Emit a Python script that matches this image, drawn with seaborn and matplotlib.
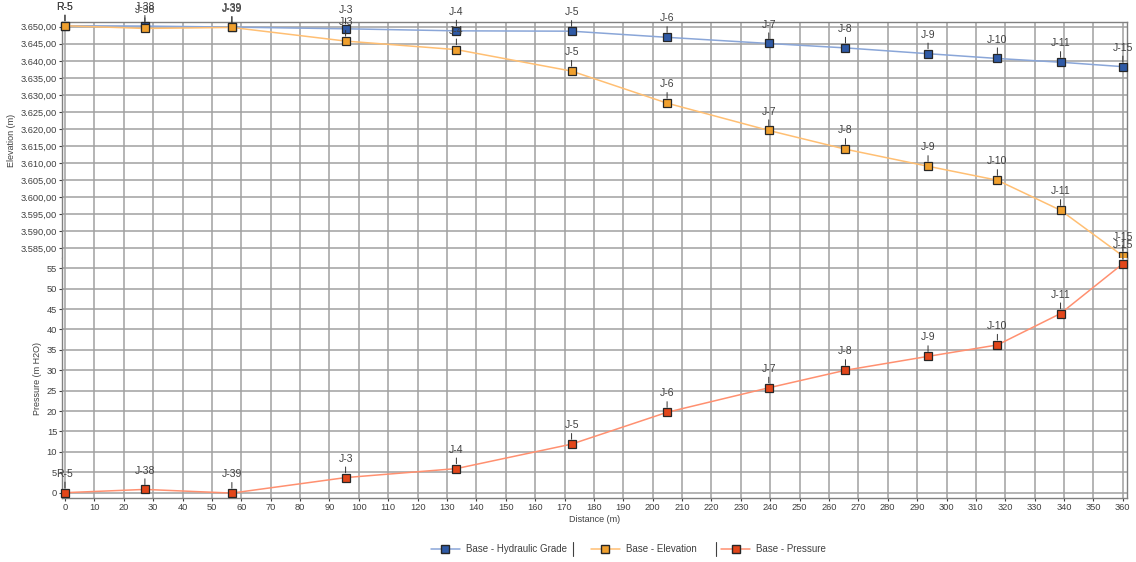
import numpy as np
import pandas as pd
import matplotlib
matplotlib.use("Agg")
import matplotlib.pyplot as plt
import seaborn as sns
from matplotlib.lines import Line2D
from matplotlib.ticker import FuncFormatter, MultipleLocator

# node labels and distances along the profile (m)
nodes = ['R-5', 'J-38', 'J-39', 'J-3', 'J-4', 'J-5', 'J-6', 'J-7', 'J-8', 'J-9', 'J-10', 'J-11', 'J-15']
distance = [0, 27.2, 56.8, 95.5, 133.2, 172.4, 204.9, 239.5, 265.6, 293.7, 317.3, 338.8, 360.0]

# values
hydraulic_grade = [3650.3, 3650.2, 3649.9, 3649.4, 3648.8, 3648.7, 3646.9, 3645.1, 3643.8, 3642.1, 3640.7, 3639.6, 3638.3]
elevation = [3650.3, 3649.5, 3649.8, 3645.8, 3643.3, 3637.0, 3627.6, 3619.6, 3614.1, 3609.1, 3605.0, 3596.2, 3582.8]
pressure = [0.0, 0.8, -0.1, 3.7, 5.9, 11.9, 19.7, 25.7, 30.0, 33.4, 36.2, 43.9, 56.1]

df = pd.DataFrame({'node': nodes, 'distance': distance, 'hgl': hydraulic_grade,
                   'elev': elevation, 'pressure': pressure})

sns.set_theme(style="white")
plt.rcParams['font.family'] = ['Liberation Sans', 'DejaVu Sans']

fig = plt.figure(figsize=(11.36, 5.62), dpi=100)
ax_top = fig.add_axes([0.0546, 0.5409, 0.9372, 0.4200])
ax_bot = fig.add_axes([0.0546, 0.1139, 0.9372, 0.4270], sharex=ax_top)

series_style = {
    'hgl': dict(line='#8AA6D8', face='#2F5AA6', label='Base - Hydraulic Grade'),
    'elev': dict(line='#FFBF73', face='#F0A02E', label='Base - Elevation'),
    'pressure': dict(line='#FF9070', face='#E2461A', label='Base - Pressure'),
}
txt_color = '#404040'
grid_color = '#A0A0A0'


def draw(ax, col):
    st = series_style[col]
    sns.lineplot(data=df, x='distance', y=col, ax=ax, sort=False, color=st['line'],
                 lw=1.1, marker='s', markersize=6, markerfacecolor=st['face'],
                 markeredgecolor='#262626', markeredgewidth=0.9, clip_on=False, zorder=3)
    for _, r in df.iterrows():
        ax.annotate(r['node'], (r['distance'], r[col]), xytext=(0, 10), textcoords='offset points',
                    ha='center', va='bottom', fontsize=7.5, color=txt_color, annotation_clip=False,
                    arrowprops=dict(arrowstyle='-', color='#303030', lw=0.7, shrinkA=0, shrinkB=3.5))


draw(ax_top, 'hgl')
draw(ax_top, 'elev')
draw(ax_bot, 'pressure')

ax_top.set_ylim(3582.2, 3651.4)
ax_bot.set_ylim(-1.3, 57.5)
ax_top.set_xlim(-1, 361.3)

ax_bot.xaxis.set_major_locator(MultipleLocator(10))
ax_top.set_yticks(np.arange(3585, 3651, 5))
ax_bot.set_yticks(np.arange(0, 56, 5))
ax_top.yaxis.set_major_formatter(FuncFormatter(
    lambda v, p: f"{v:,.2f}".replace(',', 'X').replace('.', ',').replace('X', '.')))
ax_bot.yaxis.set_major_formatter(FuncFormatter(lambda v, p: f"{v:.0f}"))

for ax in (ax_top, ax_bot):
    ax.grid(True, color=grid_color, lw=1.1)
    ax.set_axisbelow(True)
    ax.tick_params(axis='both', labelsize=6.7, colors=txt_color, length=2, width=0.8,
                   direction='out', pad=1.5, left=True, bottom=True)
    for s in ax.spines.values():
        s.set_color('#808080')
        s.set_linewidth(1.0)

ax_top.spines['bottom'].set_visible(False)
ax_bot.spines['top'].set_visible(False)
ax_top.tick_params(axis='x', labelbottom=False, bottom=False)

ax_top.set_ylabel('Elevation (m)', fontsize=6.5, color=txt_color, labelpad=3)
ax_bot.set_ylabel('Pressure (m H2O)', fontsize=6.5, color=txt_color, labelpad=3)
ax_bot.set_xlabel('Distance (m)', fontsize=6.5, color=txt_color, labelpad=2)
ax_top.set_xlabel('')

handles = []
for col in ('hgl', 'elev', 'pressure'):
    st = series_style[col]
    handles.append(Line2D([0], [0], color=st['line'], lw=1.1, marker='s', markersize=6,
                          markerfacecolor=st['face'], markeredgecolor='#262626', label=st['label']))
leg = fig.legend(handles=handles, loc='center', bbox_to_anchor=(0.553, 0.023), ncol=3,
                 frameon=False, fontsize=7, handlelength=3, columnspacing=2.5, handletextpad=0.6)
for t in leg.get_texts():
    t.set_color(txt_color)

# separators between legend entries
for xs in (573 / 1136, 716 / 1136):
    fig.add_artist(Line2D([xs, xs], [0.010, 0.036], color='#404040', lw=0.8))

fig.savefig('out.png', dpi=100)
